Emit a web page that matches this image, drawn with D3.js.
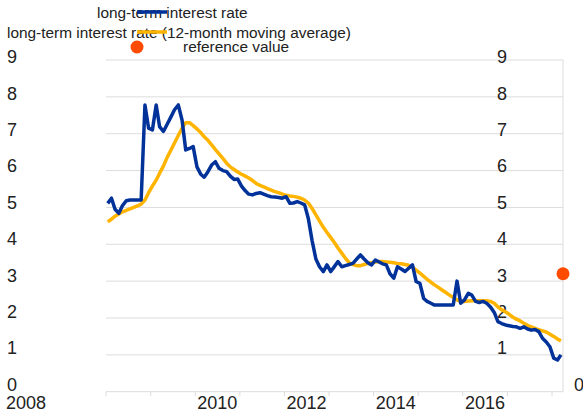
<!DOCTYPE html>
<html>
<head>
<meta charset="utf-8">
<script src="https://cdn.jsdelivr.net/npm/d3@7"></script>
<style>
  body { margin: 0; background: #fff; }
  svg { display: block; font-family: "Liberation Sans", Arial, sans-serif; }
</style>
</head>
<body>
<svg id="chart" width="583" height="416"></svg>
<script>
// monthly observations, Jan 2008 .. Mar 2018
const startMonth = new Date(2008, 0, 15);

const longTermRate = [
  5.11, 5.25, 4.95, 4.84, 5.05, 5.18, 5.2, 5.2, 5.2, 5.2,
  7.78, 7.15, 7.1, 7.78, 7.19, 7.06, 7.25, 7.45, 7.65, 7.78,
  7.37, 6.56, 6.6, 6.65, 6.1, 5.9, 5.82, 5.97, 6.15, 6.24,
  6.06, 6.0, 5.97, 5.85, 5.76, 5.77, 5.58, 5.45, 5.36, 5.34,
  5.38, 5.4, 5.36, 5.32, 5.29, 5.28, 5.27, 5.25, 5.29, 5.11,
  5.12, 5.16, 5.12, 5.07, 4.7, 4.1, 3.6, 3.39, 3.26, 3.44,
  3.26, 3.4, 3.53, 3.39, 3.42, 3.45, 3.48, 3.6, 3.71, 3.6,
  3.5, 3.44, 3.57, 3.52, 3.47, 3.44, 3.2, 3.08, 3.39, 3.33,
  3.26, 3.35, 3.44, 2.99, 2.94, 2.53, 2.45, 2.4, 2.35, 2.35,
  2.35, 2.35, 2.35, 2.35, 3.0, 2.4, 2.49, 2.67, 2.62, 2.45,
  2.42, 2.45, 2.4, 2.3, 2.15, 1.9, 1.85, 1.81, 1.79, 1.77,
  1.76, 1.72, 1.76, 1.7, 1.67, 1.69, 1.63, 1.45, 1.35, 1.22,
  0.91, 0.86, 1.0
];

const movingAverage = [
  4.61, 4.68, 4.76, 4.82, 4.88, 4.92, 4.96, 5.0, 5.04, 5.09,
  5.2, 5.4, 5.58, 5.74, 5.93, 6.12, 6.35, 6.55, 6.75, 6.95,
  7.15, 7.3, 7.3, 7.22, 7.13, 7.03, 6.92, 6.82, 6.7, 6.57,
  6.45, 6.33, 6.2, 6.1, 6.03, 5.96, 5.9, 5.85, 5.8, 5.73,
  5.65, 5.6, 5.56, 5.51, 5.47, 5.43, 5.4, 5.36, 5.33, 5.31,
  5.3, 5.28, 5.25, 5.2, 5.12, 4.97, 4.8, 4.63, 4.46, 4.32,
  4.18, 4.04, 3.9, 3.76, 3.62, 3.5, 3.45, 3.42, 3.42, 3.45,
  3.48, 3.5, 3.52, 3.53, 3.53, 3.52, 3.51, 3.5, 3.48, 3.47,
  3.45, 3.43, 3.38, 3.3, 3.22, 3.13, 3.05, 2.97, 2.9, 2.83,
  2.76, 2.69, 2.62, 2.56, 2.49, 2.45, 2.45, 2.46, 2.47, 2.47,
  2.47, 2.47, 2.47, 2.45, 2.4, 2.3, 2.22, 2.17, 2.1, 2.02,
  1.97, 1.92, 1.86, 1.8, 1.76, 1.72, 1.68, 1.65, 1.62, 1.56,
  1.5, 1.43, 1.38
];

const referenceValue = 3.2;
const yTicks = [1, 2, 3, 4, 5, 6, 7, 8, 9];
const yearLabels = [2010, 2012, 2014, 2016];

const legendItems = [
  "long-term interest rate",
  "long-term interest rate (12-month moving average)",
  "reference value"
];

const blue = "#003299", yellow = "#ffb400", red = "#ff4b00";
const gridColor = "#dcdcdc", textColor = "#222";

const svg = d3.select("#chart");

const x = d3.scaleTime()
  .domain([new Date(2008, 0, 1), new Date(2018, 3, 1)])
  .range([106, 563]);
const y = d3.scaleLinear().domain([0, 9]).range([391.7, 60]);
// tick text sits a little above its grid line, more so near the bottom
const yLabel = d3.scaleLinear().domain([0, 9]).range([384.5, 57]);

const dates = longTermRate.map((d, i) => d3.timeMonth.offset(startMonth, i));

// grid
svg.append("g")
  .selectAll("line")
  .data(yTicks)
  .join("line")
  .attr("x1", x.range()[0]).attr("x2", x.range()[1])
  .attr("y1", d => y(d)).attr("y2", d => y(d))
  .attr("stroke", gridColor).attr("stroke-width", 1);

// bottom axis line + year ticks
svg.append("line")
  .attr("x1", x.range()[0]).attr("x2", x.range()[1])
  .attr("y1", y(0)).attr("y2", y(0))
  .attr("stroke", gridColor);
svg.append("g")
  .selectAll("line")
  .data(d3.timeYear.range(new Date(2008, 0, 1), new Date(2018, 1, 1)))
  .join("line")
  .attr("x1", d => x(d)).attr("x2", d => x(d))
  .attr("y1", y(0)).attr("y2", y(0) + 4.5)
  .attr("stroke", gridColor);

// right frame line
svg.append("line")
  .attr("x1", x.range()[1]).attr("x2", x.range()[1])
  .attr("y1", y(9)).attr("y2", y(0))
  .attr("stroke", gridColor);

// y labels, left and right
const labelG = svg.append("g")
  .attr("font-size", 18).attr("fill", textColor);
labelG.selectAll("text.l")
  .data([0].concat(yTicks))
  .join("text")
  .attr("class", "l")
  .attr("x", 7)
  .attr("y", d => yLabel(d))
  .attr("dy", "0.35em")
  .text(d => d);
labelG.selectAll("text.r")
  .data(yTicks)
  .join("text")
  .attr("class", "r")
  .attr("x", 497)
  .attr("y", d => yLabel(d))
  .attr("dy", "0.35em")
  .text(d => d);
labelG.append("text")
  .attr("x", 574).attr("y", yLabel(0)).attr("dy", "0.35em")
  .text(0);

// x labels
labelG.selectAll("text.year")
  .data(yearLabels)
  .join("text")
  .attr("class", "year")
  .attr("x", d => x(new Date(d, 6, 1)))
  .attr("y", 403).attr("dy", "0.35em")
  .attr("text-anchor", "middle")
  .text(d => d);
labelG.append("text")
  .attr("x", 6).attr("y", 403).attr("dy", "0.35em")
  .text(2008);

// series
const line = d3.line()
  .x((d, i) => x(dates[i]))
  .y(d => y(d));

svg.append("path")
  .datum(movingAverage)
  .attr("d", line)
  .attr("fill", "none")
  .attr("stroke", yellow)
  .attr("stroke-width", 3.5)
  .attr("stroke-linejoin", "round");

svg.append("path")
  .datum(longTermRate)
  .attr("d", line)
  .attr("fill", "none")
  .attr("stroke", blue)
  .attr("stroke-width", 3.5)
  .attr("stroke-linejoin", "round");

svg.append("circle")
  .attr("cx", x(new Date(2018, 3, 1)))
  .attr("cy", y(referenceValue))
  .attr("r", 6.5)
  .attr("fill", red);

// legend
const legend = svg.append("g").attr("font-size", 15.4).attr("fill", textColor);
legend.append("text").attr("x", 97).attr("y", 13).attr("dy", "0.35em").text(legendItems[0]);
legend.append("text").attr("x", 7).attr("y", 33).attr("dy", "0.35em").text(legendItems[1]);
legend.append("text").attr("x", 183).attr("y", 47).attr("dy", "0.35em").text(legendItems[2]);
legend.append("line")
  .attr("x1", 137).attr("x2", 167).attr("y1", 12).attr("y2", 12)
  .attr("stroke", blue).attr("stroke-width", 3.5);
legend.append("line")
  .attr("x1", 137).attr("x2", 167).attr("y1", 32).attr("y2", 32)
  .attr("stroke", yellow).attr("stroke-width", 3.5);
legend.append("circle")
  .attr("cx", 137).attr("cy", 47).attr("r", 6.5)
  .attr("fill", red);
</script>
</body>
</html>
